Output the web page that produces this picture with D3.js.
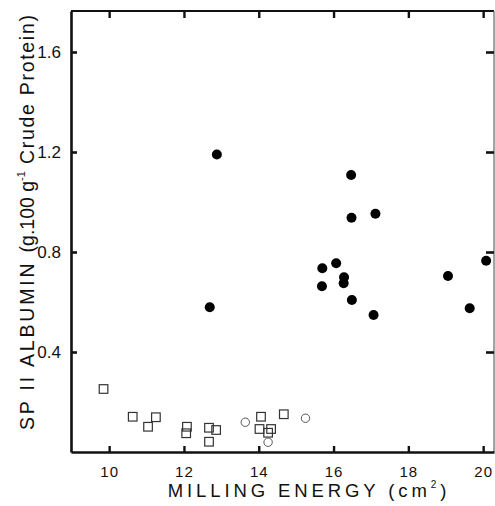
<!DOCTYPE html>
<html>
  <head>
    <meta charset="utf-8">
    <script src="https://d3js.org/d3.v7.min.js"></script>
    <style>
      body { margin: 0; background: #fff; }
      text { font-family: "Liberation Sans", Arial, sans-serif; fill: #111; }
    </style>
  </head>
  <body>
    <div id="chart"></div>
    <script>
      // filled circles
      var filledX = [12.88, 12.69, 16.47, 16.48, 17.12, 15.70, 16.07, 16.28, 16.27, 15.69, 16.49, 17.07, 19.06, 19.64, 20.08];
      var filledY = [1.19, 0.579, 1.108, 0.937, 0.953, 0.735, 0.755, 0.699, 0.675, 0.663, 0.608, 0.548, 0.704, 0.575, 0.765];
      // open squares
      var squareX = [9.85, 10.63, 11.25, 11.04, 12.08, 12.06, 12.67, 12.86, 12.67, 14.06, 14.02, 14.33, 14.25, 14.67];
      var squareY = [0.252, 0.141, 0.139, 0.101, 0.101, 0.075, 0.097, 0.088, 0.041, 0.141, 0.092, 0.092, 0.077, 0.151];
      // open circles
      var circleX = [13.64, 14.25, 15.25];
      var circleY = [0.119, 0.039, 0.135];

      var xTicks = [10, 12, 14, 16, 18, 20];
      var yTicks = [0.4, 0.8, 1.2, 1.6];

      var margin = { top: 11, right: 1, bottom: 54, left: 71 };
      var width = 495 - margin.left - margin.right;
      var height = 506 - margin.top - margin.bottom;

      var svg = d3
        .select("#chart")
        .append("svg")
        .attr("width", 495)
        .attr("height", 506)
        .append("g")
        .attr("transform", "translate(" + margin.left + "," + margin.top + ")");

      var xScale = d3.scaleLinear().domain([8.98, 20.29]).range([0, width]);
      var yScale = d3.scaleLinear().domain([0, 1.764]).range([height, 0]);

      // frame
      svg.append("line").attr("x1", 0).attr("x2", width).attr("y1", 0).attr("y2", 0)
        .attr("stroke", "#111").attr("stroke-width", 2);
      svg.append("line").attr("x1", width).attr("x2", width).attr("y1", 0).attr("y2", height)
        .attr("stroke", "#666").attr("stroke-width", 1.2);

      // bottom axis
      var xAxis = d3.axisBottom(xScale).tickValues(xTicks).tickSizeInner(-6).tickSizeOuter(0).tickPadding(14);
      var gx = svg.append("g").attr("transform", "translate(0," + height + ")").call(xAxis);
      gx.select(".domain").attr("stroke", "#111").attr("stroke-width", 2.6);
      gx.selectAll(".tick line").attr("stroke", "#111").attr("stroke-width", 2.4);
      gx.selectAll(".tick text").attr("font-size", "15px").attr("font-family", "Liberation Sans, Arial, sans-serif").style("letter-spacing", "1px");

      // top ticks
      var gxt = svg.append("g").call(d3.axisTop(xScale).tickValues(xTicks).tickSizeInner(-7).tickSizeOuter(0).tickFormat(""));
      gxt.select(".domain").remove();
      gxt.selectAll(".tick line").attr("stroke", "#111").attr("stroke-width", 2.4);

      // left axis
      var yAxis = d3.axisLeft(yScale).tickValues(yTicks).tickFormat(d3.format(".1f")).tickSizeInner(-6).tickSizeOuter(0).tickPadding(10);
      var gy = svg.append("g").call(yAxis);
      gy.select(".domain").attr("stroke", "#111").attr("stroke-width", 2.6);
      gy.selectAll(".tick line").attr("stroke", "#111").attr("stroke-width", 2.6);
      gy.selectAll(".tick text").attr("font-size", "17px").attr("font-family", "Liberation Sans, Arial, sans-serif");

      // right ticks
      var gyr = svg.append("g").attr("transform", "translate(" + width + ",0)")
        .call(d3.axisRight(yScale).tickValues(yTicks).tickSizeInner(-8).tickSizeOuter(0).tickFormat(""));
      gyr.select(".domain").remove();
      gyr.selectAll(".tick line").attr("stroke", "#111").attr("stroke-width", 2.6);

      // open squares
      svg.append("g")
        .selectAll("rect")
        .data(d3.range(squareX.length))
        .enter()
        .append("rect")
        .attr("x", (i) => xScale(squareX[i]) - 4.3)
        .attr("y", (i) => yScale(squareY[i]) - 4.3)
        .attr("width", 8.6)
        .attr("height", 8.6)
        .attr("fill", "none")
        .attr("stroke", "#333")
        .attr("stroke-width", 1.2);

      // open circles
      svg.append("g")
        .selectAll("circle")
        .data(d3.range(circleX.length))
        .enter()
        .append("circle")
        .attr("cx", (i) => xScale(circleX[i]))
        .attr("cy", (i) => yScale(circleY[i]))
        .attr("r", 4.2)
        .attr("fill", "none")
        .attr("stroke", "#555")
        .attr("stroke-width", 1);

      // filled circles
      svg.append("g")
        .selectAll("circle")
        .data(d3.range(filledX.length))
        .enter()
        .append("circle")
        .attr("cx", (i) => xScale(filledX[i]))
        .attr("cy", (i) => yScale(filledY[i]))
        .attr("r", 5)
        .attr("fill", "#000");

      // x title
      var xt = svg.append("text")
        .attr("x", 238)
        .attr("y", height + 45)
        .attr("text-anchor", "middle")
        .attr("font-size", "18.5px")
        .style("letter-spacing", "3.9px");
      xt.append("tspan").text("MILLING ENERGY (cm");
      xt.append("tspan").text("2").attr("font-size", "10px").attr("dy", "-9");
      xt.append("tspan").text(")").attr("dy", "9");

      // y title, drawn from its start at the bottom
      var yt = svg.append("text")
        .attr("transform", "translate(-37," + 419 + ") rotate(-90)")
        .attr("text-anchor", "start")
        .attr("font-size", "19.5px");
      yt.append("tspan").text("SP II ALBUMIN ").style("letter-spacing", "2.8px");
      yt.append("tspan").text("(g.100 g").style("letter-spacing", "0px");
      yt.append("tspan").text("-1").attr("font-size", "11px").attr("dy", "-9").style("letter-spacing", "0px");
      yt.append("tspan").text(" Crude Protein)").attr("dy", "9").style("letter-spacing", "1.7px");
    </script>
  </body>
</html>
